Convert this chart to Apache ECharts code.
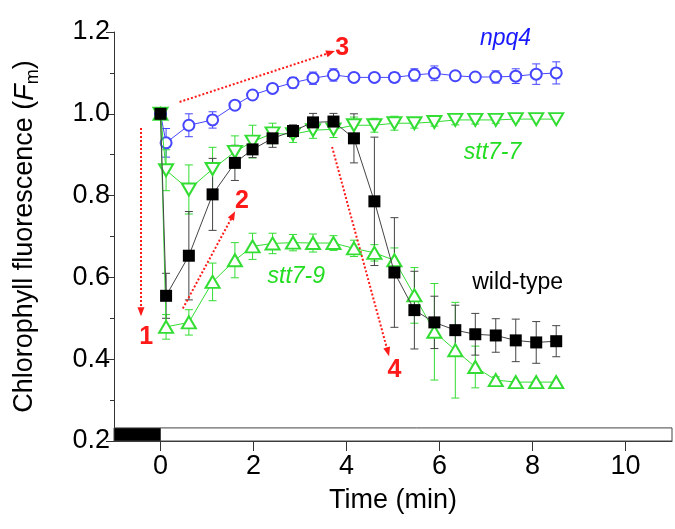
<!DOCTYPE html>
<html><head><meta charset="utf-8">
<script src="https://cdn.jsdelivr.net/npm/echarts@6/dist/echarts.min.js"></script>
<style>html,body{margin:0;padding:0;background:#fff}#c{width:675px;height:529px}</style>
</head><body><div id="c"></div>
<script>
// ---- data (time in min, Fm relative) ----
const times     = [0, 0.12, 0.61, 1.12, 1.60, 1.98, 2.41, 2.85, 3.28, 3.72, 4.16, 4.60, 5.03, 5.46, 5.89, 6.34, 6.77, 7.21, 7.64, 8.08, 8.51];
const wildType  = [1.000, 0.555, 0.653, 0.803, 0.880, 0.913, 0.940, 0.958, 0.979, 0.981, 0.940, 0.786, 0.612, 0.520, 0.490, 0.471, 0.461, 0.458, 0.446, 0.441, 0.444];
const wildTypeErr=[0, 0.055, 0.108, 0.088, 0.043, 0.020, 0.022, 0.015, 0.022, 0.020, 0.060, 0.157, 0.134, 0.095, 0.064, 0.061, 0.051, 0.041, 0.052, 0.051, 0.038];
const stt79     = [1.000, 0.479, 0.490, 0.589, 0.642, 0.676, 0.683, 0.685, 0.684, 0.684, 0.671, 0.660, 0.642, 0.556, 0.467, 0.422, 0.381, 0.349, 0.344, 0.344, 0.344];
const stt79Err  = [0, 0.030, 0.031, 0.046, 0.043, 0.032, 0.025, 0.020, 0.022, 0.018, 0.020, 0.020, 0.030, 0.068, 0.118, 0.117, 0.051, 0.008, 0, 0, 0];
const stt77     = [1.000, 0.862, 0.815, 0.865, 0.907, 0.932, 0.952, 0.950, 0.960, 0.962, 0.972, 0.972, 0.977, 0.977, 0.980, 0.985, 0.985, 0.985, 0.987, 0.987, 0.987];
const stt77Err  = [0, 0.050, 0.060, 0.053, 0.039, 0.040, 0.025, 0.020, 0.020, 0.020, 0.020, 0.017, 0.017, 0.012, 0.010, 0.012, 0.010, 0.008, 0.005, 0, 0];
const npq4      = [1.000, 0.929, 0.972, 0.985, 1.021, 1.046, 1.062, 1.076, 1.087, 1.095, 1.089, 1.089, 1.089, 1.095, 1.099, 1.093, 1.090, 1.090, 1.092, 1.097, 1.100];
const npq4Err   = [0, 0.035, 0.028, 0.020, 0, 0, 0, 0.013, 0.015, 0.015, 0, 0, 0.012, 0.015, 0.018, 0, 0, 0.015, 0.018, 0.025, 0.027];
const xTicks = [0, 2, 4, 6, 8, 10];
// light-period bar: [start, end]
const darkPeriod = [-1, 0];
const lightPeriod = [0, 11];
// annotation arrows [x1, y1, x2, y2] and labels [x, y, text]
const arrows = [[-0.42, 0.965, -0.42, 0.516], [0.48, 0.524, 1.56, 0.752], [0.41, 1.029, 3.66, 1.150], [3.69, 0.919, 4.89, 0.418]];
const arrowLabels = [[-0.31, 0.453, '1'], [1.75, 0.786, '2'], [3.91, 1.160, '3'], [5.03, 0.373, '4']];
const seriesLabels = [[7.42, 1.185, 'npq4', '#1a1aff', 'italic'], [7.14, 0.904, 'stt7-7', '#22dd22', 'italic'], [2.92, 0.603, 'stt7-9', '#22dd22', 'italic'], [7.68, 0.588, 'wild-type', '#000', 'normal']];

const FONT = '"Liberation Sans", Arial, sans-serif';
const BLUE = '#4646ff', GREEN = '#33dd33';

function pairs(ys){ return times.map((t,i)=>[t, ys[i]]); }
function errData(ys, es){ const out=[]; times.forEach((t,i)=>{ if(es[i]>0) out.push([t, ys[i]-es[i], ys[i]+es[i]]); }); return out; }
function errSeries(ys, es, color, z){
  return {type:'custom', z:z, silent:true, data:errData(ys,es), encode:{x:0,y:[1,2]},
    renderItem:function(params, api){
      const x=api.value(0), lo=api.coord([x, api.value(1)]), hi=api.coord([x, api.value(2)]), w=4;
      const st={stroke:color, lineWidth:1};
      return {type:'group', children:[
        {type:'line', shape:{x1:lo[0],y1:lo[1],x2:hi[0],y2:hi[1]}, style:st},
        {type:'line', shape:{x1:lo[0]-w,y1:lo[1],x2:lo[0]+w,y2:lo[1]}, style:st},
        {type:'line', shape:{x1:hi[0]-w,y1:hi[1],x2:hi[0]+w,y2:hi[1]}, style:st}
      ]};
    }};
}

const chart = echarts.init(document.getElementById('c'), null, {renderer:'canvas'});
chart.setOption({
  animation:false,
  backgroundColor:'#fff',
  grid:{left:114, right:3, top:32, bottom:88, containLabel:false, outerBoundsMode:'none'},
  xAxis:{type:'value', min:-1, max:11,
    name:'Time (min)', nameLocation:'middle', nameGap:46,
    nameTextStyle:{fontFamily:FONT, fontSize:27, color:'#000'},
    axisLine:{show:true, onZero:false, lineStyle:{color:'#333', width:1}},
    axisTick:{show:true, customValues:xTicks, length:10, lineStyle:{color:'#333'}},
    axisLabel:{customValues:xTicks, fontFamily:FONT, fontSize:27, color:'#000', margin:12},
    splitLine:{show:false}},
  yAxis:{type:'value', min:0.2, max:1.2, interval:0.2,
    name:'{a|Chlorophyll fluorescence (}{i|F}{s|m}{a|)}', nameLocation:'middle', nameGap:72,
    nameTextStyle:{fontFamily:FONT, fontSize:27, color:'#000',
      rich:{a:{fontFamily:FONT, fontSize:27, color:'#000', lineHeight:34},
            i:{fontFamily:FONT, fontSize:27, fontStyle:'italic', color:'#000', lineHeight:34},
            s:{fontFamily:FONT, fontSize:18, color:'#000', lineHeight:34, verticalAlign:'bottom'}}},
    axisLine:{show:true, onZero:false, lineStyle:{color:'#333', width:1}},
    axisTick:{show:true, length:8, lineStyle:{color:'#333'}},
    minorTick:{show:true, splitNumber:2, length:4, lineStyle:{color:'#333'}},
    axisLabel:{fontFamily:FONT, fontSize:27, color:'#000', margin:4, formatter:v=>v.toFixed(1)},
    splitLine:{show:false}},
  series:[
    {type:'line', data:[], z:1, silent:true,
      markArea:{silent:true, itemStyle:{borderColor:'#444', borderWidth:1},
        data:[[{coord:[darkPeriod[0],0.2], itemStyle:{color:'#000'}},{coord:[darkPeriod[1],0.232]}],
              [{coord:[lightPeriod[0],0.2], itemStyle:{color:'#fff'}},{coord:[lightPeriod[1],0.232]}]]}},
    errSeries(npq4, npq4Err, BLUE, 2),
    errSeries(stt77, stt77Err, GREEN, 2),
    errSeries(stt79, stt79Err, GREEN, 2),
    errSeries(wildType, wildTypeErr, '#444', 2),
    {name:'npq4', type:'line', z:3, data:pairs(npq4), symbol:'emptyCircle', symbolSize:11,
      itemStyle:{color:BLUE, borderWidth:1}, lineStyle:{color:BLUE, width:1}},
    {name:'stt7-7', type:'line', z:4, data:pairs(stt77), symbol:'emptyTriangle', symbolSize:[14,12], symbolRotate:180,
      itemStyle:{color:GREEN, borderWidth:1}, lineStyle:{color:GREEN, width:1}},
    {name:'stt7-9', type:'line', z:5, data:pairs(stt79), symbol:'emptyTriangle', symbolSize:[14,12],
      itemStyle:{color:GREEN, borderWidth:1}, lineStyle:{color:GREEN, width:1}},
    {name:'wild-type', type:'line', z:6, data:pairs(wildType), symbol:'rect', symbolSize:12,
      itemStyle:{color:'#000'}, lineStyle:{color:'#444', width:1}},
    {type:'line', data:[], z:7, silent:true,
      markLine:{silent:true, symbol:['none','triangle'], symbolSize:[7,9], label:{show:false},
        lineStyle:{color:'#ff1a1a', width:2, type:[2,2]},
        data:arrows.map(a=>[{coord:[a[0],a[1]]},{coord:[a[2],a[3]]}])},
      markPoint:{silent:true, symbol:'circle', symbolSize:0,
        data:arrowLabels.map(l=>({coord:[l[0],l[1]], label:{show:true, position:'inside', formatter:l[2],
          fontFamily:FONT, fontSize:25, fontWeight:'bold', color:'#ff1a1a'}})).concat(
          seriesLabels.map(l=>({coord:[l[0],l[1]], label:{show:true, position:'inside', formatter:l[2],
          fontFamily:FONT, fontSize:23, fontStyle:l[4], color:l[3]}})))}}
  ]
});
</script></body></html>
